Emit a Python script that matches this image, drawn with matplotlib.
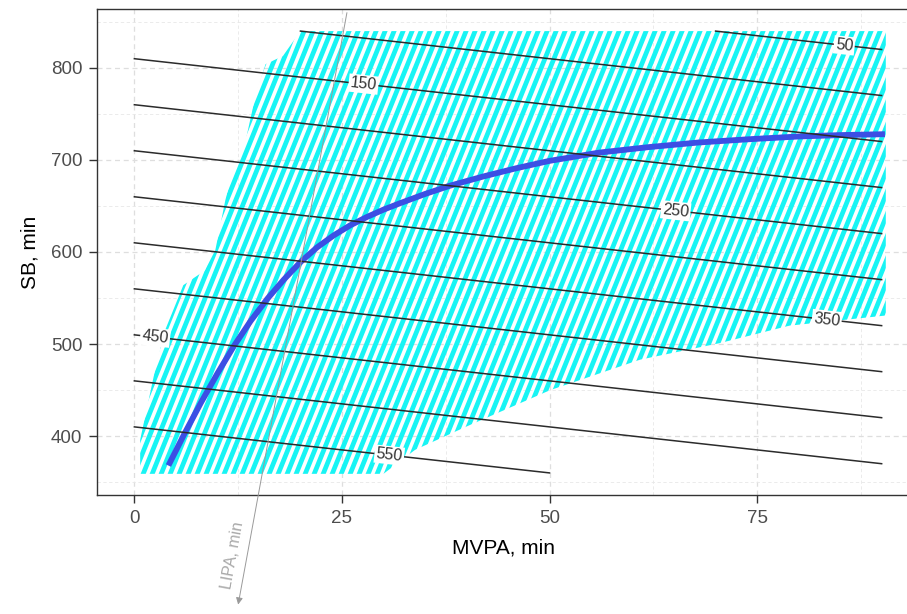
import numpy as np
import matplotlib
matplotlib.use("Agg")
import matplotlib.pyplot as plt
from matplotlib.patches import Polygon
from matplotlib.collections import LineCollection


TOTAL_MIN = 960  # SB + LIPA + MVPA

# iso-LIPA lines and the ones that carry a label
LIPA_LEVELS = [50, 100, 150, 200, 250, 300, 350, 400, 450, 500, 550]
LABEL_LIPA = [50, 150, 250, 350, 450, 550]
LABEL_MVPA = [85.5, 27.6, 65.2, 83.4, 2.5, 30.7]

# observed region (hatched)
REGION_MVPA = [20.0, 90.5, 90.5, 78.9, 70.5, 60.9, 50.1, 40.4, 33.8, 30.0,
               0.7, 0.7, 1.6, 2.5, 3.7, 5.9, 8.5, 9.75, 10.95, 11.8, 13.4,
               14.6, 15.8, 17.9]
REGION_SB = [840, 840, 531, 520, 501, 483, 450, 412, 385, 359,
             359, 396, 434, 472, 515, 564, 580, 602, 656, 686, 721,
             770, 804, 813]

# fitted curve
CURVE_MVPA = [4.1, 6, 8, 10, 12, 14, 16, 18, 20, 22, 24, 26, 28, 30, 32,
              35, 38, 42, 46, 50, 56, 62, 68, 74, 80, 85, 90.4]
CURVE_SB = [368, 402, 436, 468, 498, 525, 549, 570, 589, 605, 618, 629,
            638, 646, 653, 663, 672, 682, 691, 699, 708, 714, 719, 722.5,
            725.5, 727, 728]

X_LIM = (-4.5, 94.5)
Y_LIM = (336, 864)
X_TICKS = [0, 25, 50, 75]
Y_TICKS = [400, 500, 600, 700, 800]

# LIPA direction arrow (MVPA, SB)
LIPA_AXIS_START = (25.6, 860)
LIPA_AXIS_END = (12.5, 217)
LIPA_LABEL_POS = (11.9, 270)

CYAN = "#18F4F4"
BLUE = "#3C4FE4"

plt.rcParams["font.family"] = ["Liberation Sans", "DejaVu Sans"]

fig = plt.figure(figsize=(9.07, 6.14), dpi=100)
ax = fig.add_axes([97 / 907, 1 - 495 / 614, 822 / 907, 486 / 614])
ax.set_xlim(*X_LIM)
ax.set_ylim(*Y_LIM)

# grid
ax.set_xticks(X_TICKS)
ax.set_yticks(Y_TICKS)
ax.set_xticks([12.5, 37.5, 62.5, 87.5], minor=True)
ax.set_yticks([350, 450, 550, 650, 750, 850], minor=True)
ax.grid(which="major", color="#DEDEDE", lw=0.9, ls=(0, (4, 3)), zorder=0)
ax.grid(which="minor", color="#E8E8E8", lw=0.6, ls=(0, (4, 3)), zorder=0)
ax.set_axisbelow(True)

# hatched region: stripes clipped to the polygon
region = Polygon(np.column_stack([REGION_MVPA, REGION_SB]), closed=True,
                 facecolor="none", edgecolor="none")
ax.add_patch(region)
fig.canvas.draw()
px0 = ax.transData.transform((0, 0))
px1 = ax.transData.transform((1, 1))
sx = px1[0] - px0[0]
sy = px1[1] - px0[1]
ang = np.radians(68)
dx = np.cos(ang) / sx
dy = np.sin(ang) / sy
period = 9.0 / sx
h = Y_LIM[1] - Y_LIM[0]
run = h / dy * dx
segs = []
x0 = X_LIM[0] - run
while x0 < X_LIM[1]:
    segs.append([(x0, Y_LIM[0]), (x0 + run, Y_LIM[1])])
    x0 += period
stripes = LineCollection(segs, colors=CYAN, linewidths=3.4, zorder=1,
                         capstyle="butt")
ax.add_collection(stripes)
stripes.set_clip_path(region)

# fitted curve
ax.plot(CURVE_MVPA, CURVE_SB, color=BLUE, lw=4.2, zorder=2,
        solid_capstyle="butt", solid_joinstyle="round")

# iso-LIPA lines
for lev in LIPA_LEVELS:
    lo = max(0, TOTAL_MIN - lev - 840)
    hi = min(90, TOTAL_MIN - lev - 360)
    xs = np.array([lo, hi])
    ax.plot(xs, TOTAL_MIN - lev - xs, color="#2B2B2B", lw=1.1, zorder=3)

rot = np.degrees(np.arctan2(-sy, sx))
for lev, xm in zip(LABEL_LIPA, LABEL_MVPA):
    ax.text(xm, TOTAL_MIN - lev - xm, str(lev), fontsize=11.5, color="#333333",
            ha="center", va="center", rotation=rot, rotation_mode="anchor",
            zorder=4,
            bbox=dict(facecolor="white", edgecolor="none", pad=1.2))

# LIPA direction arrow
ax.annotate("", xy=LIPA_AXIS_END, xytext=LIPA_AXIS_START,
            arrowprops=dict(arrowstyle="-|>", color="#9A9A9A", lw=0.7,
                            mutation_scale=10, shrinkA=0, shrinkB=0),
            annotation_clip=False, zorder=5)
ang_l = np.degrees(np.arctan2((LIPA_AXIS_START[1] - LIPA_AXIS_END[1]) * sy,
                              (LIPA_AXIS_START[0] - LIPA_AXIS_END[0]) * sx))
ax.text(*LIPA_LABEL_POS, "LIPA, min", fontsize=11.5, color="#A8A8A8",
        rotation=ang_l, rotation_mode="anchor", ha="center", va="center",
        clip_on=False)

# axes styling
for sp in ax.spines.values():
    sp.set_color("#333333")
    sp.set_linewidth(1.0)
ax.tick_params(which="major", length=5.5, width=1.0, color="#333333",
               labelsize=13.5, labelcolor="#4D4D4D", pad=5)
ax.tick_params(which="minor", length=0)
ax.set_xlabel("MVPA, min", fontsize=15)
ax.set_ylabel("SB, min", fontsize=15)
ax.xaxis.set_label_coords((503 - 97) / 822, -44 / 486)
ax.yaxis.set_label_coords(-57 / 822, 0.5)

fig.savefig("out.png", dpi=100)
